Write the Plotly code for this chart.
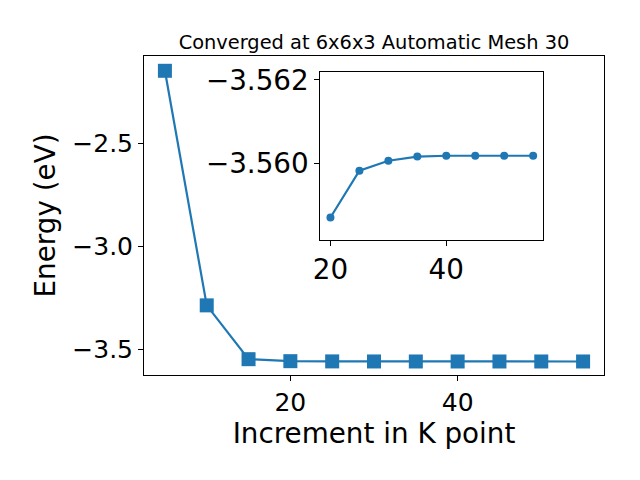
import plotly.graph_objects as go

# Data
kpoints = [5, 10, 15, 20, 25, 30, 35, 40, 45, 50, 55]
energy = [-2.145, -3.287, -3.549, -3.5587, -3.5598, -3.56006, -3.56016, -3.56018, -3.56018, -3.56018, -3.56018]
inset_k = [20, 25, 30, 35, 40, 45, 50, 55]
inset_energy = [-3.55870, -3.55982, -3.56006, -3.56016, -3.56018, -3.56018, -3.56018, -3.56018]

main_yticks = [-3.5, -3.0, -2.5]
main_xticks = [20, 40]
inset_xticks = [20, 40]
inset_yticks = [-3.562, -3.560]

blue = "#1f77b4"
font = "DejaVu Sans"

fig = go.Figure()
fig.add_trace(go.Scatter(x=kpoints, y=energy, mode="lines+markers",
                         line=dict(color=blue, width=2.2),
                         marker=dict(symbol="square", size=14, color=blue),
                         xaxis="x", yaxis="y", showlegend=False))
fig.add_trace(go.Scatter(x=inset_k, y=inset_energy, mode="lines+markers",
                         line=dict(color=blue, width=2.2),
                         marker=dict(symbol="circle", size=8, color=blue),
                         xaxis="x2", yaxis="y2", showlegend=False))

axis_common = dict(showgrid=False, zeroline=False, showline=True, linecolor="black",
                   linewidth=1, mirror=True, ticks="outside", ticklen=5, tickwidth=1,
                   tickcolor="black", tickfont=dict(family=font, size=25, color="black"))
inset_tickfont = dict(family=font, size=27.8, color="black")

fig.update_layout(
    width=640, height=480, autosize=False,
    margin=dict(l=144, r=36, t=56, b=105, autoexpand=False),
    paper_bgcolor="white", plot_bgcolor="white",
    title=dict(text="Converged at 6x6x3 Automatic Mesh 30", x=(144 + 604) / 2 / 640,
               xanchor="center", y=1 - 42 / 480, yanchor="middle",
               font=dict(family=font, size=19.4, color="black")),
    xaxis=dict(axis_common, range=[2.5, 57.5], tickvals=main_xticks, automargin=False,
               title=dict(text="Increment in K point", font=dict(family=font, size=27.8, color="black"), standoff=5)),
    yaxis=dict(axis_common, range=[-3.626, -2.073], tickvals=main_yticks, tickformat=".1f", automargin=False,
               title=dict(text="Energy (eV)", font=dict(family=font, size=27.8, color="black"), standoff=8)),
    xaxis2=dict(axis_common, domain=[0.3833, 0.868], anchor="y2", range=[18.25, 56.75],
                tickvals=inset_xticks, automargin=False, tickfont=inset_tickfont),
    yaxis2=dict(axis_common, domain=[0.4232, 0.9489], anchor="x2", range=[-3.55816, -3.56218],
                tickvals=inset_yticks, tickformat=".3f", automargin=False, tickfont=inset_tickfont),
)

fig.write_html("out.html", config={"responsive": False, "displayModeBar": False},
               post_script="document.body.style.margin='0px';document.body.style.overflow='hidden';")
